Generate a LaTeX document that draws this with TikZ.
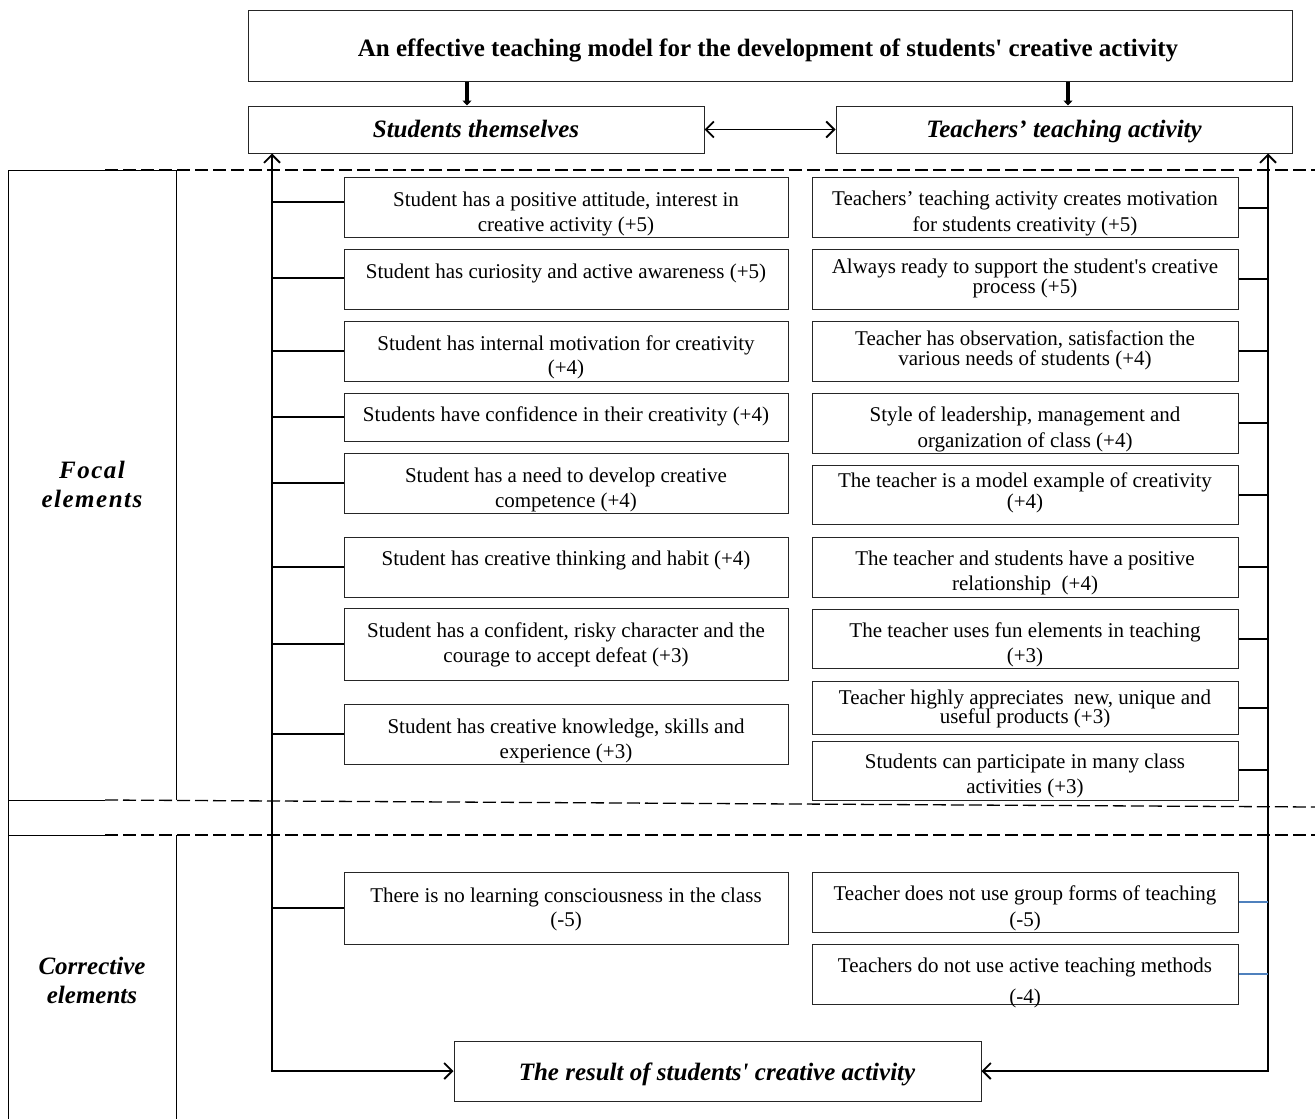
\documentclass[tikz,border=0pt]{standalone}
\usepackage{fontspec}
\setmainfont{Liberation Serif}[Ligatures=TeXOff]
\usetikzlibrary{arrows.meta,fit,calc}
\tikzset{
  bx/.style={draw=black!85, line width=1pt, inner sep=0pt},
  hdtxt/.style={font=\fontsize{25}{30}\selectfont\bfseries\itshape, inner sep=0pt, anchor=base},
  ttl/.style={font=\fontsize{25}{30}\selectfont\bfseries, inner sep=0pt, anchor=base},
  it/.style={font=\fontsize{21}{25}\selectfont, inner sep=0pt, anchor=base},
  spine/.style={line width=1.8pt},
  conn/.style={line width=1.3pt},
  dbl/.style={line width=1.8pt},
  bluec/.style={line width=1.3pt, draw={rgb,255:red,79;green,129;blue,189}},
  sepline/.style={line width=1.3pt, dash pattern=on 13pt off 5pt},
  barbs/.style={arrows={{Straight Barb[length=8pt,width=16pt]}-{Straight Barb[length=8pt,width=16pt]}}},
  thickdown/.style={line width=3.2pt, -{Triangle[length=5pt,width=9pt]}},
}
\newcommand\Tln[3]{\node[it] at (#1,#2) {#3};}
\begin{document}
\begin{tikzpicture}[x=1pt,y=-1pt]
\useasboundingbox (0,0) rectangle (1315,1119);

% headers
\node[bx, fit={(248,10)(1292,81)}] (title) {};
\node[ttl] at (768,56) {An effective teaching model for the development of students' creative activity};
\node[bx, fit={(248,106)(704,153)}] (S) {};
\node[hdtxt] at (476,137) {Students themselves};
\node[bx, fit={(836,106)(1292,153)}] (T) {};
\node[hdtxt] at (1064,137) {Teachers’ teaching activity};
\node[bx, fit={(454,1041)(981,1101)}] (Res) {};
\node[hdtxt] at (717,1080) {The result of students' creative activity};

\coordinate (ax1) at (467,0);
\coordinate (ax2) at (1068,0);
\draw[thickdown] (title.south -| ax1) -- (S.north -| ax1);
\draw[thickdown] (title.south -| ax2) -- (T.north -| ax2);
\draw[dbl, barbs] (S.east) -- (T.west);

% left frame
\draw[line width=1pt] (176,800) -- (176,170) -- (8,170) -- (8,1119);
\draw[line width=1pt] (8,800) -- (105,800);
\draw[line width=1pt] (8,835) -- (105,835);
\draw[line width=1pt] (176,835) -- (176,1119);
\draw[sepline] (105,170) -- (1315,170);
\draw[sepline] (105,800) -- (1315,807);
\draw[sepline] (105,835) -- (1315,835);

\node[font=\fontsize{25}{29}\selectfont\bfseries\itshape\addfontfeature{LetterSpace=6}, align=center, inner sep=0pt] (focal) at (92,484) {Focal\\elements};
\node[font=\fontsize{25}{29}\selectfont\bfseries\itshape, align=center, inner sep=0pt] (corr) at (92,980) {Corrective\\elements};

% spines
\coordinate (LX) at (272,0);
\coordinate (RX) at (1268,0);
\draw[spine, barbs] (S.south -| LX) -- (LX |- Res.west) -- (Res.west);
\draw[spine, barbs] (T.south -| RX) -- (RX |- Res.east) -- (Res.east);

% left items
\node[bx, fit={(344,177)(788,237)}] (L1) {};
\Tln{566}{206}{Student has a positive attitude, interest in}
\Tln{566}{231}{creative activity (+5)}
\node[bx, fit={(344,249)(788,309)}] (L2) {};
\Tln{566}{278}{Student has curiosity and active awareness (+5)}
\node[bx, fit={(344,321)(788,381)}] (L3) {};
\Tln{566}{350}{Student has internal motivation for creativity}
\Tln{566}{374}{(+4)}
\node[bx, fit={(344,393)(788,441)}] (L4) {};
\Tln{566}{421}{Students have confidence in their creativity (+4)}
\node[bx, fit={(344,453)(788,513)}] (L5) {};
\Tln{566}{482}{Student has a need to develop creative}
\Tln{566}{507}{competence (+4)}
\node[bx, fit={(344,537)(788,597)}] (L6) {};
\Tln{566}{565}{Student has creative thinking and habit (+4)}
\node[bx, fit={(344,608)(788,680)}] (L7) {};
\Tln{566}{637}{Student has a confident, risky character and the}
\Tln{566}{662}{courage to accept defeat (+3)}
\node[bx, fit={(344,704)(788,764)}] (L8) {};
\Tln{566}{733}{Student has creative knowledge, skills and}
\Tln{566}{758}{experience (+3)}
\node[bx, fit={(344,872)(788,944)}] (L9) {};
\Tln{566}{902}{There is no learning consciousness in the class}
\Tln{566}{926}{(-5)}

\foreach \n/\y in {1/202,2/278,3/351,4/417,5/483,6/567,7/644,8/734,9/908}{
  \coordinate (lc\n) at (272,\y);
  \draw[conn] (lc\n) -- (lc\n -| L\n.west);
}

% right items
\node[bx, fit={(812,177)(1238,237)}] (R1) {};
\Tln{1025}{205}{Teachers’ teaching activity creates motivation}
\Tln{1025}{231}{for students creativity (+5)}
\node[bx, fit={(812,249)(1238,309)}] (R2) {};
\Tln{1025}{273}{Always ready to support the student's creative}
\Tln{1025}{293}{process (+5)}
\node[bx, fit={(812,321)(1238,381)}] (R3) {};
\Tln{1025}{345}{Teacher has observation, satisfaction the}
\Tln{1025}{365}{various needs of students (+4)}
\node[bx, fit={(812,393)(1238,453)}] (R4) {};
\Tln{1025}{421}{Style of leadership, management and}
\Tln{1025}{447}{organization of class (+4)}
\node[bx, fit={(812,465)(1238,524)}] (R5) {};
\Tln{1025}{487}{The teacher is a model example of creativity}
\Tln{1025}{508}{(+4)}
\node[bx, fit={(812,537)(1238,597)}] (R6) {};
\Tln{1025}{565}{The teacher and students have a positive}
\Tln{1025}{590}{relationship\ \ (+4)}
\node[bx, fit={(812,609)(1238,668)}] (R7) {};
\Tln{1025}{637}{The teacher uses fun elements in teaching}
\Tln{1025}{662}{(+3)}
\node[bx, fit={(812,681)(1238,734)}] (R8) {};
\Tln{1025}{704}{Teacher highly appreciates\ \ new, unique and}
\Tln{1025}{723}{useful products (+3)}
\node[bx, fit={(812,741)(1238,800)}] (R9) {};
\Tln{1025}{768}{Students can participate in many class}
\Tln{1025}{793}{activities (+3)}
\node[bx, fit={(812,872)(1238,932)}] (R10) {};
\Tln{1025}{900}{Teacher does not use group forms of teaching}
\Tln{1025}{926}{(-5)}
\node[bx, fit={(812,944)(1238,1004)}] (R11) {};
\Tln{1025}{972}{Teachers do not use active teaching methods}
\Tln{1025}{1003}{(-4)}

\foreach \n/\y in {1/208,2/279,3/351,4/423,5/495,6/567,7/639,8/708,9/770}{
  \coordinate (rc\n) at (1268,\y);
  \draw[conn] (rc\n) -- (rc\n -| R\n.east);
}
\coordinate (rc10) at (1268,902);
\coordinate (rc11) at (1268,974);
\draw[bluec] (rc10) -- (rc10 -| R10.east);
\draw[bluec] (rc11) -- (rc11 -| R11.east);
\end{tikzpicture}
\end{document}
